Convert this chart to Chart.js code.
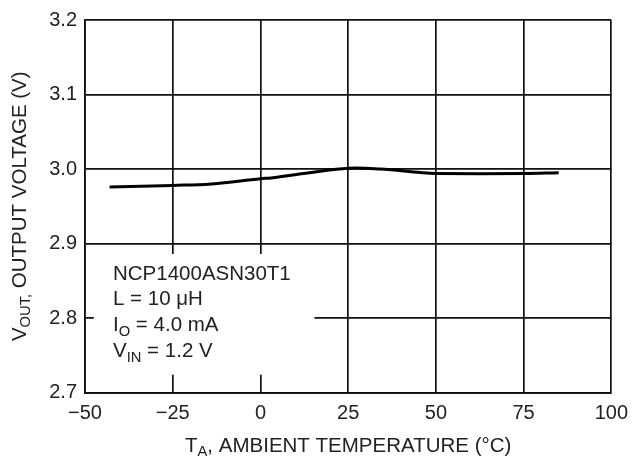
<!DOCTYPE html>
<html>
<head>
<meta charset="utf-8">
<script src="https://cdn.jsdelivr.net/npm/chart.js@4.4.0/dist/chart.umd.min.js"></script>
<style>
  html, body { margin: 0; padding: 0; background: #fff; }
  #wrap { width: 637px; height: 461px; }
</style>
</head>
<body>
<div id="wrap"><canvas id="myChart" width="637" height="461"></canvas></div>
<script>
// temperature (°C) and output voltage (V)
const temps = [-43, -25, -14, 0, 3, 14, 25, 34, 46, 50, 75, 85];
const vout = [2.976, 2.978, 2.980, 2.987, 2.988, 2.995, 3.001, 3.000, 2.995, 2.994, 2.994, 2.995];

const xTicks = [-50, -25, 0, 25, 50, 75, 100];
const yTicks = [2.7, 2.8, 2.9, 3.0, 3.1, 3.2];

const noteLines = [
  [{ t: "NCP1400ASN30T1" }],
  [{ t: "L = 10 \u03bcH" }],
  [{ t: "I" }, { t: "O", sub: true }, { t: " = 4.0 mA" }],
  [{ t: "V" }, { t: "IN", sub: true }, { t: " = 1.2 V" }],
];

const FONT = "'Liberation Sans', Arial, sans-serif";
const TEXT = "#222";

// draw text with subscripts, parts = [{t, sub}]
function richWidth(ctx, parts, size) {
  let w = 0;
  parts.forEach((p) => {
    ctx.font = (p.sub ? size * 0.72 : size) + "px " + FONT;
    w += ctx.measureText(p.t).width;
  });
  return w;
}
function drawRich(ctx, parts, x, y, size, align) {
  let cx = x;
  if (align === "center") cx = x - richWidth(ctx, parts, size) / 2;
  ctx.textBaseline = "middle";
  ctx.textAlign = "left";
  parts.forEach((p) => {
    const s = p.sub ? size * 0.72 : size;
    ctx.font = s + "px " + FONT;
    ctx.fillText(p.t, cx, p.sub ? y + size * 0.3 : y);
    cx += ctx.measureText(p.t).width;
  });
}

const labelsPlugin = {
  id: "labels",
  afterDraw(chart) {
    const ctx = chart.ctx;
    const xs = chart.scales.x;
    const ys = chart.scales.y;
    const area = chart.chartArea;
    ctx.save();
    ctx.fillStyle = TEXT;

    // y axis title
    ctx.save();
    ctx.translate(20, (area.top + area.bottom) / 2);
    ctx.rotate(-Math.PI / 2);
    drawRich(ctx, [{ t: "V" }, { t: "OUT,", sub: true }, { t: " OUTPUT VOLTAGE (V)" }], 0, 0, 20.5, "center");
    ctx.restore();

    // x axis title
    drawRich(ctx, [{ t: "T" }, { t: "A", sub: true }, { t: ", AMBIENT TEMPERATURE (\u00b0C)" }],
      (area.left + area.right) / 2, 446, 20.5, "center");

    // white box behind the note
    const bx0 = xs.getPixelForValue(-47.5);
    const bx1 = xs.getPixelForValue(15.4);
    const by0 = ys.getPixelForValue(2.886);
    const by1 = ys.getPixelForValue(2.724);
    ctx.fillStyle = "#fff";
    ctx.fillRect(bx0, by0, bx1 - bx0, by1 - by0);

    ctx.fillStyle = TEXT;
    noteLines.forEach((line, i) => {
      drawRich(ctx, line, 113, 274 + i * 25.8, 20.5, "left");
    });
    ctx.restore();
  },
};

const ctx = document.getElementById("myChart").getContext("2d");

const config = {
  type: "line",
  data: {
    datasets: [
      {
        data: temps.map((t, i) => ({ x: t, y: vout[i] })),
        borderColor: "#000",
        borderWidth: 3,
        pointRadius: 0,
        tension: 0.4,
        fill: false,
      },
    ],
  },
  options: {
    responsive: false,
    animation: false,
    layout: { padding: { left: 0, right: 22, top: 19, bottom: 0 } },
    plugins: { legend: { display: false }, tooltip: { enabled: false } },
    scales: {
      x: {
        type: "linear",
        min: -50,
        max: 100,
        afterBuildTicks: (scale) => {
          scale.ticks = xTicks.map((v) => ({ value: v }));
        },
        afterFit: (scale) => {
          scale.height = 68.5;
        },
        ticks: {
          padding: 9,
          maxRotation: 0,
          color: TEXT,
          font: { family: FONT, size: 20 },
          callback: (v) => String(v).replace("-", "\u2212"),
        },
        grid: { color: "#111", lineWidth: 1.7, drawTicks: false },
        border: { color: "#111", width: 1.7 },
      },
      y: {
        type: "linear",
        min: 2.7,
        max: 3.2,
        afterBuildTicks: (scale) => {
          scale.ticks = yTicks.map((v) => ({ value: v }));
        },
        afterFit: (scale) => {
          scale.width = 85;
        },
        ticks: {
          padding: 8,
          color: TEXT,
          font: { family: FONT, size: 20 },
          callback: (v) => v.toFixed(1),
        },
        grid: { color: "#111", lineWidth: 1.7, drawTicks: false },
        border: { color: "#111", width: 1.7 },
      },
    },
  },
  plugins: [labelsPlugin],
};

const myChart = new Chart(ctx, config);
</script>
</body>
</html>
